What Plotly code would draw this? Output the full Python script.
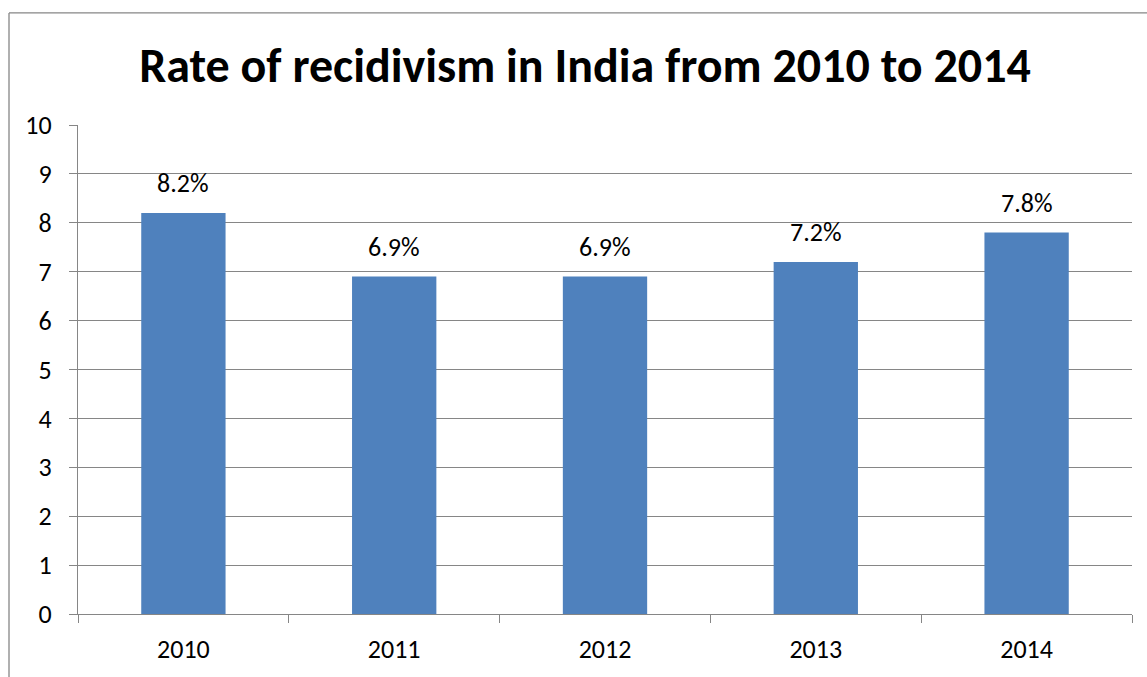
import plotly.graph_objects as go

years = ["2010", "2011", "2012", "2013", "2014"]
rates = [8.2, 6.9, 6.9, 7.2, 7.8]
labels = ["8.2%", "6.9%", "6.9%", "7.2%", "7.8%"]
title = "Rate of recidivism in India from 2010 to 2014"

W, H = 1147, 677
L, R, T, B = 78, 15, 125, 59
pw, ph = W - L - R, H - T - B
FONT = "Carlito, Calibri, Lato, 'Liberation Sans', sans-serif"
GRAY = "#868686"

fig = go.Figure()
fig.add_trace(go.Bar(x=years, y=rates, width=0.4, marker_color="#4F81BD",
                     marker_line_width=0, hoverinfo="skip"))

for i, (y, t) in enumerate(zip(rates, labels)):
    fig.add_annotation(x=i, y=y, xref="x", yref="y", text=t, showarrow=False,
                       yanchor="bottom", yshift=12,
                       font=dict(family=FONT, size=26, color="black"))

# outer chart border (left and top edges; the rest lies outside the picture)
bx0 = (9 - L) / pw
by1 = (H - 12 - B) / ph
fig.add_shape(type="line", xref="paper", yref="paper", layer="below",
              x0=bx0, x1=bx0, y0=-(B + 5) / ph, y1=by1,
              line=dict(color=GRAY, width=1.3))
fig.add_shape(type="line", xref="paper", yref="paper", layer="below",
              x0=bx0, x1=(W + 5 - L) / pw, y0=by1, y1=by1,
              line=dict(color=GRAY, width=1.3))

fig.update_layout(
    width=W, height=H,
    margin=dict(l=L, r=R, t=T, b=B),
    paper_bgcolor="white", plot_bgcolor="white",
    showlegend=False,
    font=dict(family=FONT, size=26, color="black"),
    title=dict(text="<b>" + title + "</b>", x=585 / W, xanchor="center",
               y=1 - 65 / H, yanchor="middle",
               font=dict(family=FONT, size=48, color="black")),
    bargap=0.6,
)
fig.update_xaxes(type="category", range=[-0.5, 4.5], showline=True, linecolor=GRAY,
                 linewidth=1.3, ticks="outside", tickson="boundaries", ticklen=8,
                 tickcolor=GRAY, tickwidth=1.3, showgrid=False,
                 ticklabelstandoff=12, tickfont=dict(size=26))
fig.update_yaxes(range=[0, 10], dtick=1, showline=True, linecolor=GRAY, linewidth=1.3,
                 ticks="outside", ticklen=8, tickcolor=GRAY, tickwidth=1.3,
                 showgrid=True, gridcolor=GRAY, gridwidth=1.3, zeroline=False,
                 ticklabelstandoff=12, tickfont=dict(size=26))

fig.write_html("out.html", config={"displayModeBar": False},
               post_script="document.body.style.margin='0';document.body.style.overflow='hidden';")
